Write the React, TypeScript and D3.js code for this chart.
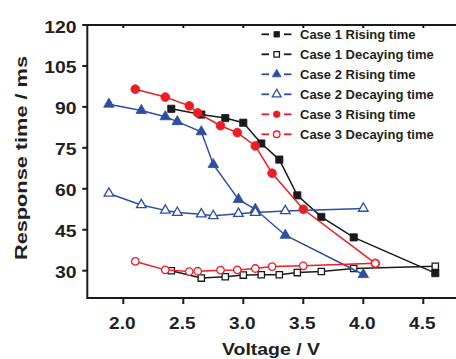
import React from "react";
import * as d3 from "d3";

const case1X = [2.4, 2.65, 2.85, 3.0, 3.15, 3.3, 3.45, 3.65, 3.92, 4.6];
const case1Rise = [89.3, 87.2, 85.9, 84.2, 76.6, 70.7, 57.6, 49.7, 42.2, 29.1];
const case1Decay = [30.0, 27.3, 27.8, 28.4, 28.5, 28.5, 29.3, 29.7, 30.8, 31.6];
const case2X = [1.88, 2.15, 2.35, 2.45, 2.65, 2.75, 2.96, 3.1, 3.35, 4.0];
const case2Rise = [91.0, 88.7, 86.4, 84.6, 80.9, 68.9, 56.1, 52.5, 43.0, 28.6];
const case2Decay = [58.3, 54.1, 52.1, 51.3, 50.7, 50.1, 50.9, 51.3, 51.9, 52.8];
const case3X = [2.1, 2.35, 2.55, 2.62, 2.81, 2.95, 3.1, 3.24, 3.5, 4.1];
const case3Rise = [96.5, 93.6, 90.4, 87.8, 83.1, 80.6, 75.7, 65.7, 52.5, 32.7];
const case3Decay = [33.4, 30.3, 29.7, 29.8, 30.2, 30.3, 30.8, 31.5, 31.8, 32.7];

const xTicks = [2.0, 2.5, 3.0, 3.5, 4.0, 4.5];
const yTicks = [30, 45, 60, 75, 90, 105, 120];

const BLACK = "#1a1a1a";
const BLUE = "#2d4ea3";
const RED = "#ee1c25";
const TEXT = "#231f20";

type Series = {
  name: string;
  xs: number[];
  ys: number[];
  color: string;
  shape: "square" | "triangle" | "circle";
  filled: boolean;
};

const series: Series[] = [
  { name: "Case 1 Rising time", xs: case1X, ys: case1Rise, color: BLACK, shape: "square", filled: true },
  { name: "Case 1 Decaying time", xs: case1X, ys: case1Decay, color: BLACK, shape: "square", filled: false },
  { name: "Case 2 Rising time", xs: case2X, ys: case2Rise, color: BLUE, shape: "triangle", filled: true },
  { name: "Case 2 Decaying time", xs: case2X, ys: case2Decay, color: BLUE, shape: "triangle", filled: false },
  { name: "Case 3 Rising time", xs: case3X, ys: case3Rise, color: RED, shape: "circle", filled: true },
  { name: "Case 3 Decaying time", xs: case3X, ys: case3Decay, color: RED, shape: "circle", filled: false },
];

const W = 456;
const H = 359;
const x = d3.scaleLinear().domain([1.7, 4.8]).range([87.3, 459.3]);
const y = d3.scaleLinear().domain([20, 120]).range([298, 25]);

function symbolPath(shape: string, big: boolean, filled: boolean) {
  let size: number;
  let type: d3.SymbolType;
  if (shape === "square") {
    type = d3.symbolSquare;
    size = big ? (filled ? 52 : 40) : 30;
  } else if (shape === "triangle") {
    type = d3.symbolTriangle;
    size = big ? (filled ? 48 : 40) : 34;
  } else {
    type = d3.symbolCircle;
    size = big ? (filled ? 60 : 44) : 34;
  }
  return d3.symbol().type(type).size(size)() as string;
}

function Marker({ s, cx, cy, big }: { s: Series; cx: number; cy: number; big: boolean }) {
  return (
    <path
      d={symbolPath(s.shape, big, s.filled)}
      transform={`translate(${cx},${cy})`}
      fill={s.filled ? s.color : "#fff"}
      stroke={s.color}
      strokeWidth={s.filled ? 0.8 : 1.3}
    />
  );
}

export default function App() {
  const line = d3
    .line<[number, number]>()
    .x((d) => x(d[0]))
    .y((d) => y(d[1]));

  const font = "'Liberation Sans', Arial, Helvetica, sans-serif";
  const left = x(1.7);
  const right = x(4.8);
  const top = y(120);
  const bottom = y(20);

  return (
    <svg
      width={W}
      height={H}
      style={{ position: "absolute", left: 0, top: 0, background: "#fff" }}
      fontFamily={font}
    >
      <rect x={0} y={0} width={W} height={H} fill="#fff" />
      {/* axes */}
      <g stroke={BLACK} strokeWidth={2} fill="none">
        <line x1={left} y1={top} x2={right} y2={top} />
        <line x1={left} y1={bottom} x2={right} y2={bottom} />
        <line x1={left} y1={top - 1} x2={left} y2={bottom + 1} />
        {xTicks.map((t) => (
          <g key={"xt" + t}>
            <line x1={x(t)} y1={bottom} x2={x(t)} y2={bottom + 6} />
            <line x1={x(t)} y1={top} x2={x(t)} y2={top + 3} />
          </g>
        ))}
        {yTicks.map((t) => (
          <line key={"yt" + t} x1={left - 5} y1={y(t)} x2={left} y2={y(t)} />
        ))}
      </g>
      {/* tick labels */}
      <g fill={TEXT} fontWeight="bold" fontSize={17}>
        {xTicks.map((t) => (
          <text
            key={"xl" + t}
            transform={`translate(${x(t) - 1},328.5) scale(1.12,1)`}
            textAnchor="middle"
          >
            {t.toFixed(1)}
          </text>
        ))}
        {yTicks.map((t) => (
          <text
            key={"yl" + t}
            transform={`translate(76.5,${y(t) + 7.5}) scale(1.14,1)`}
            textAnchor="end"
          >
            {t}
          </text>
        ))}
      </g>
      {/* axis titles */}
      <text
        fill={TEXT}
        fontWeight="bold"
        fontSize={16.5}
        textAnchor="middle"
        transform="translate(27,158) rotate(-90)"
        textLength={204}
        lengthAdjust="spacingAndGlyphs"
      >
        Response time / ms
      </text>
      <text
        fill={TEXT}
        fontWeight="bold"
        fontSize={16}
        textAnchor="middle"
        x={271}
        y={355}
        textLength={98}
        lengthAdjust="spacingAndGlyphs"
      >
        Voltage / V
      </text>
      {/* series */}
      {series.map((s) => {
        const pts: [number, number][] = s.xs.map((v, i) => [v, s.ys[i]]);
        return (
          <g key={s.name}>
            <path d={line(pts) as string} fill="none" stroke={s.color} strokeWidth={1.5} />
            {pts.map((p, i) => (
              <Marker key={i} s={s} cx={x(p[0])} cy={y(p[1])} big={true} />
            ))}
          </g>
        );
      })}
      {/* legend */}
      <g>
        {series.map((s, i) => {
          const cy = 34.3 + i * 20;
          return (
            <g key={"lg" + s.name}>
              <line x1={261.5} y1={cy} x2={291.5} y2={cy} stroke={s.color} strokeWidth={1.8} />
              <rect x={269} y={cy - 4} width={15} height={8} fill="#fff" />
              <Marker s={s} cx={276.7} cy={cy} big={false} />
              <text x={300} y={cy + 4.7} fill={TEXT} fontWeight="bold" fontSize={13}>
                {s.name}
              </text>
            </g>
          );
        })}
      </g>
    </svg>
  );
}
